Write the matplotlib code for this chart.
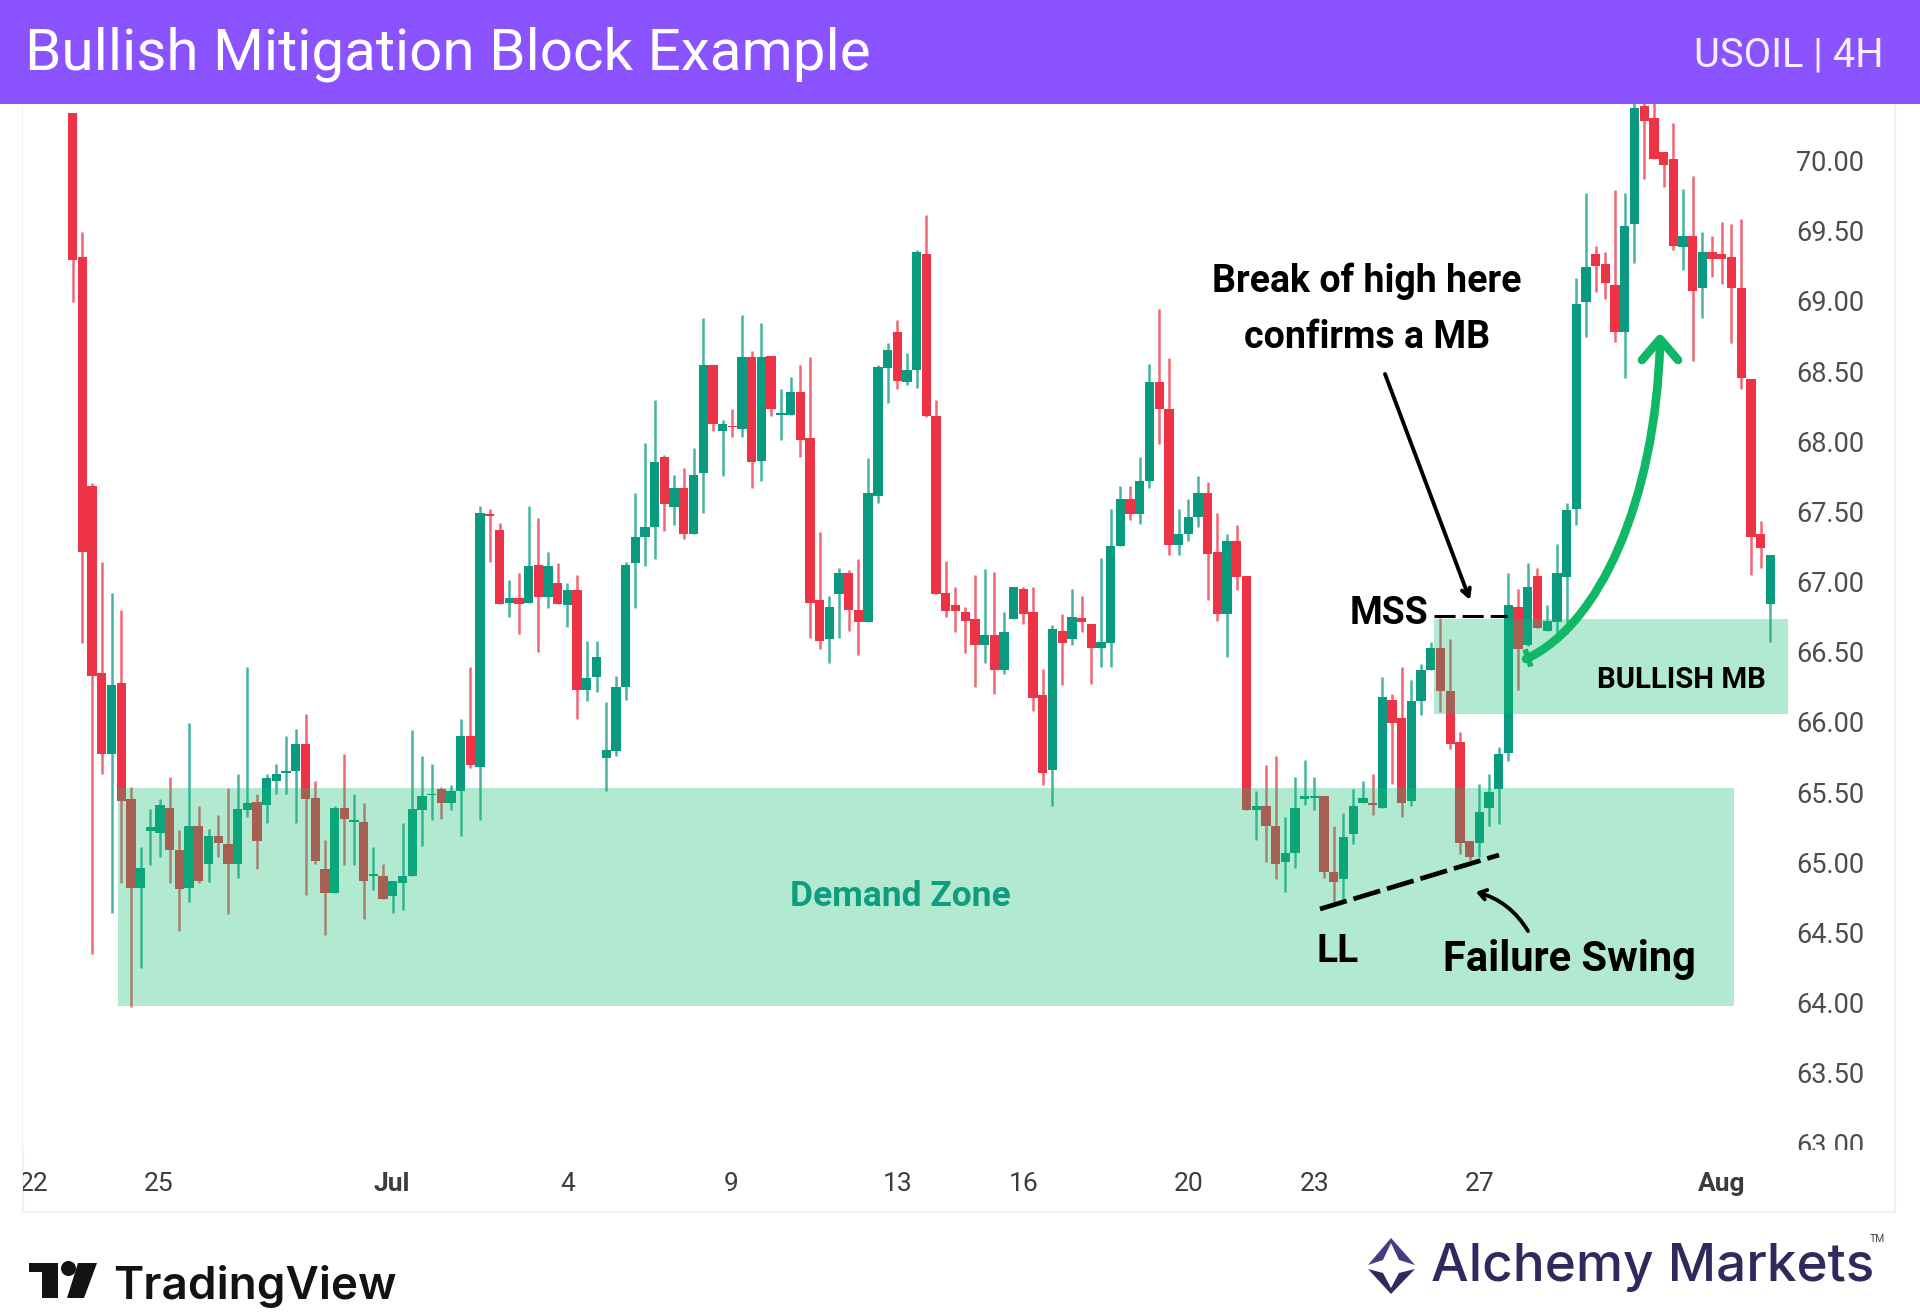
import matplotlib
matplotlib.use("Agg")
import matplotlib.pyplot as plt
import numpy as np
from matplotlib.patches import Rectangle, PathPatch, Polygon, Circle
from matplotlib.path import Path
from matplotlib.transforms import Affine2D, Bbox

# ---------- data ----------
opens = [70.34,69.31,67.68,66.35,65.77,66.28,65.45,64.82,65.22,65.21,
         65.39,65.09,64.82,65.26,64.99,65.19,65.13,64.99,65.37,65.43,
         65.41,65.58,65.64,65.65,65.84,65.46,64.95,64.78,65.39,65.29,
         65.29,64.90,64.90,64.76,64.85,64.90,65.37,65.48,65.52,65.42,
         65.51,65.90,65.68,67.48,67.37,66.85,66.88,66.85,67.12,66.89,
         66.99,66.83,66.94,66.23,66.32,65.74,65.79,66.25,67.13,67.32,
         67.39,67.89,67.53,67.67,67.34,67.77,68.54,68.07,68.11,68.09,
         68.60,67.86,68.61,68.19,68.19,68.35,68.02,66.87,66.59,66.91,
         67.06,66.80,66.71,67.61,68.52,68.78,68.42,68.51,69.33,68.18,
         66.92,66.83,66.78,66.73,66.55,66.62,66.37,66.73,66.95,66.78,
         66.19,65.66,66.65,66.59,66.74,66.70,66.53,66.56,67.25,67.59,
         67.48,67.72,68.42,68.23,67.26,67.34,67.46,67.63,67.21,66.77,
         67.29,67.04,65.37,65.40,65.26,65.00,65.07,65.45,65.46,65.47,
         64.93,64.88,65.20,65.42,65.42,65.39,66.16,66.03,65.44,66.15,
         66.37,66.53,66.22,65.86,65.15,65.14,65.39,65.52,65.78,66.82,
         66.55,67.04,66.65,66.71,67.03,67.52,68.99,69.33,69.26,69.11,
         68.78,69.55,70.39,70.30,70.06,70.01,69.38,69.46,69.09,69.35,
         69.33,69.31,69.09,68.44,67.34,66.84]
highs = [70.34,69.49,67.70,67.14,66.92,66.80,65.54,65.11,65.38,65.45,
         65.61,65.23,65.99,65.40,65.24,65.34,65.53,65.63,66.39,65.49,
         65.63,65.70,65.90,65.95,66.06,65.58,65.16,65.40,65.77,65.49,
         65.42,65.11,64.99,64.87,65.28,65.94,65.76,65.70,65.54,65.55,
         66.02,66.39,67.54,67.52,67.42,67.01,67.06,67.54,67.45,67.21,
         67.13,66.99,67.05,66.58,66.58,66.14,66.33,67.14,67.63,67.99,
         68.29,67.90,67.76,67.81,67.95,68.88,68.54,68.15,68.23,68.90,
         68.64,68.84,68.61,68.37,68.46,68.54,68.60,67.35,66.90,67.10,
         67.08,67.16,67.88,68.54,68.70,68.86,68.63,69.36,69.61,68.29,
         67.15,66.96,66.82,67.05,67.09,67.07,66.78,66.96,66.96,66.96,
         66.38,66.69,66.77,66.95,66.90,66.70,67.17,67.52,67.68,67.68,
         67.89,68.55,68.94,68.59,67.52,67.59,67.75,67.71,67.49,67.34,
         67.40,67.04,65.51,65.69,65.76,65.32,65.61,65.73,65.61,65.47,
         65.26,65.35,65.52,65.58,65.63,66.32,66.20,66.39,66.30,66.41,
         66.57,66.74,66.59,65.93,65.15,65.56,65.63,65.82,67.06,66.95,
         67.13,67.10,66.83,67.27,67.56,69.16,69.77,69.39,69.35,69.79,
         69.77,70.50,70.50,70.45,70.06,70.27,69.80,69.89,69.49,69.46,
         69.56,69.55,69.58,68.44,67.43,67.19]
lows = [68.99,66.56,64.35,65.63,64.64,64.85,63.97,64.25,64.98,65.04,
        64.85,64.51,64.72,64.85,64.86,65.04,64.63,64.89,65.32,64.95,
        65.28,65.49,65.49,65.28,64.77,64.99,64.48,64.78,64.98,64.98,
        64.60,64.80,64.74,64.64,64.66,64.90,65.12,65.30,65.31,65.37,
        65.19,65.67,65.30,67.14,66.84,66.75,66.63,66.85,66.50,66.81,
        66.84,66.68,66.02,66.15,66.21,65.51,65.76,66.16,66.81,67.11,
        67.16,67.36,67.40,67.30,67.34,67.49,68.07,67.75,68.03,68.03,
        67.67,67.72,68.18,68.01,68.19,67.89,66.60,66.52,66.42,66.60,
        66.65,66.48,66.71,67.56,68.27,68.37,68.40,68.38,68.17,66.91,
        66.75,66.64,66.49,66.25,66.42,66.20,66.34,66.73,66.70,66.08,
        65.55,65.40,66.26,66.55,66.64,66.27,66.39,66.39,67.25,67.44,
        67.41,67.67,67.98,67.19,67.19,67.29,67.39,66.87,66.72,66.46,
        66.94,65.37,65.16,65.00,64.88,64.79,64.96,65.41,65.37,64.89,
        64.72,64.72,65.13,65.42,65.34,65.39,65.56,65.32,65.40,66.05,
        66.37,66.07,65.81,65.06,65.02,65.04,65.26,65.27,65.72,66.23,
        66.54,66.67,66.65,66.58,66.63,67.40,68.74,69.06,69.01,68.71,
        68.45,69.27,69.87,70.01,69.81,69.36,69.22,68.57,68.88,69.17,
        69.12,68.70,68.37,67.05,67.10,66.57]
closes = [69.29,67.21,66.33,65.77,66.26,65.44,64.82,64.96,65.25,65.41,
          65.09,64.81,65.26,64.87,65.19,65.14,64.99,65.38,65.42,65.15,
          65.60,65.63,65.65,65.84,65.45,65.01,64.78,65.39,65.31,65.30,
          64.87,64.92,64.74,64.87,64.90,65.38,65.47,65.49,65.42,65.51,
          65.90,65.69,67.49,67.47,66.84,66.88,66.84,67.11,66.89,67.11,
          66.84,66.94,66.23,66.31,66.46,65.80,66.25,67.12,67.32,67.39,
          67.85,67.55,67.67,67.34,67.76,68.54,68.12,68.12,68.10,68.60,
          67.85,68.60,68.23,68.20,68.35,68.01,66.85,66.58,66.82,67.06,
          66.80,66.71,67.63,68.53,68.65,68.43,68.51,69.35,68.18,66.91,
          66.79,66.79,66.72,66.55,66.62,66.37,66.64,66.96,66.77,66.17,
          65.64,66.66,66.56,66.75,66.71,66.53,66.57,67.25,67.59,67.48,
          67.72,68.42,68.23,67.26,67.34,67.46,67.63,67.20,66.77,67.29,
          67.03,65.37,65.40,65.26,64.99,65.07,65.39,65.47,65.47,64.93,
          64.86,65.18,65.40,65.46,65.41,66.18,65.99,65.42,66.15,66.37,
          66.53,66.22,65.84,65.14,65.04,65.36,65.50,65.77,66.83,66.52,
          66.96,66.67,66.72,67.06,67.51,68.98,69.24,69.25,69.13,68.78,
          69.53,70.37,70.28,70.01,69.97,69.39,69.46,69.07,69.35,69.30,
          69.30,69.09,68.45,67.32,67.24,67.19]
price_ticks = [63.5,64.0,64.5,65.0,65.5,66.0,66.5,67.0,67.5,68.0,68.5,69.0,69.5,70.0,63.0]
date_labels = ["22","25","Jul","4","9","13","16","20","23","27","Aug"]
date_ticks = [-4,8.9,32.9,51,67.9,85,98,115,128,145,170]
demand_zone = dict(x0=4.64, x1=171.3, low=63.98, high=65.53)
bullish_mb = dict(x0=140.3, x1=176.8, low=66.06, high=66.735)

# ---------- figure ----------
W, H = 1920, 1314
plt.rcParams['font.family'] = ['Roboto', 'DejaVu Sans']
fig = plt.figure(figsize=(W/100, H/100), dpi=100, facecolor='white')
pix = Affine2D().scale(1, -1).translate(0, H)   # reference-image pixels for annotations
def fx(x): return x / W
def fy(y): return 1 - y / H

L, R, T, B = 23, 1796, 104, 1150
ax = fig.add_axes([fx(L), fy(B), (R-L)/W, (B-T)/H])
ax.set_xlim(-5.125, 177.65)
ax.set_ylim(62.951, 70.402)
for s in ax.spines.values():
    s.set_visible(False)

UP, DOWN = '#0a9a80', '#ef3347'
x = np.arange(len(opens))
o, h, l, c = map(np.array, (opens, highs, lows, closes))
cols = [UP if cc >= oo else DOWN for oo, cc in zip(o, c)]
ax.vlines(x, l, h, colors=cols, linewidth=1.8, alpha=0.75, zorder=2)
ax.bar(x, np.abs(c-o), bottom=np.minimum(o, c), width=0.96, color=cols, linewidth=0, zorder=3)

ZONE = '#0EC06F'
for z in (demand_zone, bullish_mb):
    ax.add_patch(Rectangle((z['x0'], z['low']), z['x1']-z['x0'], z['high']-z['low'],
                           facecolor=ZONE, edgecolor='none', alpha=0.32, zorder=4))

# axes ticks
ax.yaxis.tick_right()
ax.set_yticks(price_ticks)
ax.set_yticklabels([f"{v:.2f}" for v in price_ticks], fontsize=19.5, color='#4d4d4d')
ax.tick_params(axis='y', length=0, pad=0)
ax.set_xticks(date_ticks)
ax.set_xticklabels(date_labels, fontsize=19, color='#3c3c3c')
ax.tick_params(axis='x', length=0, pad=16)
for lab, txt in zip(ax.get_xticklabels(), date_labels):
    lab.set_clip_box(Bbox([[L, 0], [W, H]]))
    lab.set_clip_on(True)
    if txt in ("Jul", "Aug"):
        lab.set_fontweight('bold')
for lab in ax.get_yticklabels():
    lab.set_clip_box(Bbox([[0, H-B], [W, H]]))
    lab.set_clip_on(True)

# panel border
fig.add_artist(Rectangle((fx(L), fy(1212)), (1895-L)/W, (1212-60)/H, transform=fig.transFigure,
                         fill=False, edgecolor='#f0f0f0', linewidth=1.6, zorder=-1))

# header
fig.add_artist(Rectangle((0, fy(104)), 1, 104/H, transform=fig.transFigure,
                         facecolor='#8b53ff', edgecolor='none', zorder=10))
fig.text(fx(25), fy(54), "Bullish Mitigation Block Example", color='white', fontsize=42,
         ha='left', va='center', zorder=11)
fig.text(fx(1884), fy(55), "USOIL | 4H", color='#f4eeff', fontsize=28.7, ha='right', va='center', zorder=11)

# annotations
def label(px, py, s, size, color='black', **kw):
    fig.text(fx(px), fy(py), s, fontsize=size, color=color, family=['Roboto'], fontweight='bold',
             ha='center', va='center', zorder=8, **kw)

label(1367, 309, "Break of high here\nconfirms a MB", 27, linespacing=1.67)
label(1389, 614, "MSS", 27)
label(1338, 952, "LL", 28)
label(1569, 959, "Failure Swing", 30)
label(900, 897, "Demand Zone", 25.5, color='#0f9d80')
label(1681, 680, "BULLISH MB", 21.2)

ax.plot([1434, 1507], [616, 616], transform=pix, color='black', lw=2.2,
        linestyle=(0, (6.9, 2.3)), clip_on=False, zorder=7)
ax.plot([1320, 1499], [909, 855], transform=pix, color='black', lw=3.4,
        linestyle=(0, (5.9, 1.5)), clip_on=False, zorder=7)
ax.annotate('', xy=(1470, 600), xytext=(1385, 374), xycoords=pix, textcoords=pix,
            arrowprops=dict(arrowstyle='->,head_length=0.55,head_width=0.3', lw=2.8, color='black',
                            shrinkA=0, shrinkB=0), zorder=7)
ax.annotate('', xy=(1476, 892), xytext=(1528, 931), xycoords=pix, textcoords=pix,
            arrowprops=dict(arrowstyle='->,head_length=0.5,head_width=0.35', lw=2.8, color='black',
                            shrinkA=0, shrinkB=0, connectionstyle='arc3,rad=0.2'), zorder=7)

GREEN = '#10b766'
curve = Path([(1526, 659), (1600, 625), (1655, 500), (1660, 345)],
             [Path.MOVETO, Path.CURVE4, Path.CURVE4, Path.CURVE4])
ax.add_patch(PathPatch(curve, transform=pix, fill=False, edgecolor=GREEN, lw=6.2,
                       capstyle='round', clip_on=False, zorder=7))
head = Path([(1642, 360), (1660, 339), (1678, 360)], [Path.MOVETO, Path.LINETO, Path.LINETO])
ax.add_patch(PathPatch(head, transform=pix, fill=False, edgecolor=GREEN, lw=6.2,
                       capstyle='round', joinstyle='round', clip_on=False, zorder=7))
ax.plot([1526, 1530], [652, 664], transform=pix, color=GREEN, lw=4, clip_on=False, zorder=7)

# TradingView logo
DARK = '#131313'
ax.add_patch(Polygon([(29,1263),(58,1263),(58,1298),(42,1298),(42,1272),(29,1272)], closed=True,
                     transform=pix, facecolor=DARK, edgecolor='none', clip_on=False))
ax.add_patch(Circle((68.5,1268.5), 7.5, transform=pix, facecolor=DARK, edgecolor='none', clip_on=False))
ax.add_patch(Polygon([(78,1263),(97,1263),(84,1298),(67,1298)], closed=True,
                     transform=pix, facecolor=DARK, edgecolor='none', clip_on=False))
fig.text(fx(113), fy(1286), "TradingView", fontsize=33, color=DARK, family=['Inter','Roboto'],
         fontweight='semibold', ha='left', va='center')

# Alchemy Markets logo
NAVY = '#2f2a5e'
ax.add_patch(Polygon([(1391,1238),(1415,1265),(1399,1260),(1391,1243),(1383,1260),(1368,1265)], closed=True,
                     transform=pix, facecolor='#443c85', edgecolor='none', clip_on=False))
ax.add_patch(Polygon([(1368,1269),(1383,1273),(1391,1288),(1399,1273),(1415,1269),(1391,1294)], closed=True,
                     transform=pix, facecolor=NAVY, edgecolor='none', clip_on=False))
fig.text(fx(1431), fy(1268), "Alchemy Markets", fontsize=38.2, color=NAVY, family=['Inter','Roboto'],
         fontweight='medium', ha='left', va='center')
fig.text(fx(1877), fy(1239), "TM", fontsize=7.5, color='#444444', ha='center', va='center')

fig.savefig("out.png", dpi=100)
